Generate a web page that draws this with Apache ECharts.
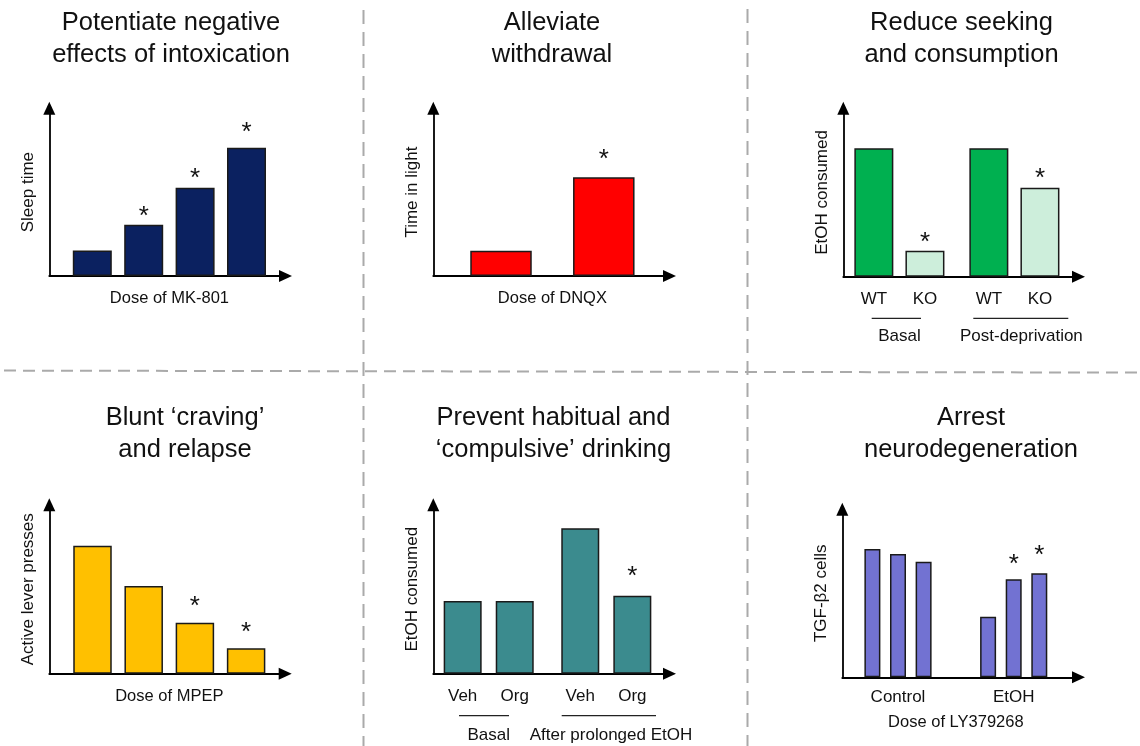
<!DOCTYPE html>
<html><head><meta charset="utf-8">
<script src="https://cdn.jsdelivr.net/npm/echarts@6/dist/echarts.min.js"></script>
<style>html,body{margin:0;padding:0;background:#fff}#c{width:1140px;height:746px}</style>
</head><body><div id="c"></div>
<script>
// ================= DATA =================
const panelTitles = [
  'Potentiate negative\neffects of intoxication',
  'Alleviate\nwithdrawal',
  'Reduce seeking\nand consumption',
  'Blunt \u2018craving\u2019\nand relapse',
  'Prevent habitual and\n\u2018compulsive\u2019 drinking',
  'Arrest\nneurodegeneration'
];
// Panel 1 – MK-801
const mk801Doses = ['0', '1', '2', '3'];
const sleepTime = [14.7, 29.4, 50.7, 73.6];
const sleepTimeSig = [false, true, true, true];
// Panel 2 – DNQX
const dnqxDoses = ['0', '1'];
const timeInLight = [14.5, 56.6];
const timeInLightSig = [false, true];
// Panel 3 – seeking / consumption
const seekingConditions = ['Basal', 'Post-deprivation'];
const etohWT = [73.4, 73.4];
const etohKO = [14.9, 50.9];
const etohWTSig = [false, false];
const etohKOSig = [true, true];
// Panel 4 – MPEP
const mpepDoses = ['0', '1', '2', '3'];
const leverPresses = [73.0, 50.0, 29.1, 14.5];
const leverPressesSig = [false, false, true, true];
// Panel 5 – habitual drinking
const drinkingConditions = ['Basal', 'After prolonged EtOH'];
const drinkVeh = [41.4, 82.9];
const drinkOrg = [41.4, 44.5];
const drinkVehSig = [false, false];
const drinkOrgSig = [false, true];
// Panel 6 – neurodegeneration
const tgfGroups = ['Control', 'EtOH'];
const tgfDose0 = [73.5, 34.7];
const tgfDose1 = [70.6, 56.1];
const tgfDose2 = [66.2, 59.6];
const tgfSig0 = [false, false];
const tgfSig1 = [false, true];
const tgfSig2 = [false, true];

// ================= STYLE / LAYOUT =================
const FONT = "'Liberation Sans', Arial, Helvetica, sans-serif";
const INK = '#111111';
const EDGE = '#1a1a1a';
const STAR_SIZE = 26;
const STAR_K = 19; // asterisk glyph centre above label anchor

const panels = [
  { title: panelTitles[0], tx: 171, ty: 6.9, yName: 'Sleep time', xName: 'Dose of MK-801',
    cats: mk801Doses, showCats: false,
    frame: { axisX: 49.3, tipY: 101.7, baseY: 276, tipX: 292 },
    band: { c0: 92.3, bw: 51.4 }, barW: 39, barGap: '0%',
    series: [{ name: 'MK-801', values: sleepTime, sig: sleepTimeSig, color: '#0b2160', starGap: [0, 13.7, 14.4, 21] }] },
  { title: panelTitles[1], tx: 552, ty: 6.9, yName: 'Time in light', xName: 'Dose of DNQX',
    cats: dnqxDoses, showCats: false,
    frame: { axisX: 433.3, tipY: 101.7, baseY: 276, tipX: 676 },
    band: { c0: 501, bw: 102.8 }, barW: 61.5, barGap: '0%',
    series: [{ name: 'DNQX', values: timeInLight, sig: timeInLightSig, color: '#ff0000', starGap: [0, 24] }] },
  { title: panelTitles[2], tx: 961.5, ty: 6.9, yName: 'EtOH consumed', xName: '',
    cats: seekingConditions, showCats: true, catMargin: 51.5, catShift: [0, 14], subLabelDist: 13.8,
    frame: { axisX: 843.3, tipY: 101.7, baseY: 276.7, tipX: 1085 },
    band: { c0: 899.4, bw: 115 }, barW: 39, barGap: '31%',
    underlines: [[871.7, 921, 318.3], [973.3, 1068.3, 318.3]],
    series: [
      { name: 'WT', values: etohWT, sig: etohWTSig, color: '#00b050', starGap: [0, 0], sub: true },
      { name: 'KO', values: etohKO, sig: etohKOSig, color: '#cdeedb', starGap: [14, 14.4], sub: true }] },
  { title: panelTitles[3], tx: 185, ty: 401.9, yName: 'Active lever presses', xName: 'Dose of MPEP',
    cats: mpepDoses, showCats: false,
    frame: { axisX: 49.3, tipY: 498.3, baseY: 673.7, tipX: 291.7 },
    band: { c0: 92.5, bw: 51.2 }, barW: 38.5, barGap: '0%',
    series: [{ name: 'MPEP', values: leverPresses, sig: leverPressesSig, color: '#ffc000', starGap: [0, 0, 22, 21.6] }] },
  { title: panelTitles[4], tx: 553.5, ty: 401.9, yName: 'EtOH consumed', xName: '',
    cats: drinkingConditions, showCats: true, catMargin: 52.8, catShift: [0, 9.4], subLabelDist: 14.5,
    frame: { axisX: 433.3, tipY: 498.3, baseY: 673.7, tipX: 676 },
    band: { c0: 488.7, bw: 117.6 }, barW: 38, barGap: '37%',
    underlines: [[459, 509, 715.7], [561.7, 656, 715.7]],
    series: [
      { name: 'Veh', values: drinkVeh, sig: drinkVehSig, color: '#3b8b8e', starGap: [0, 0], sub: true },
      { name: 'Org', values: drinkOrg, sig: drinkOrgSig, color: '#3b8b8e', starGap: [0, 25], sub: true }] },
  { title: panelTitles[5], tx: 971, ty: 401.9, yName: 'TGF-\u03b22 cells', xName: 'Dose of LY379268',
    cats: tgfGroups, showCats: true, catMargin: 11.5, xNameGap: 36.5,
    frame: { axisX: 842.3, tipY: 502.7, baseY: 677.3, tipX: 1085 },
    band: { c0: 898, bw: 115.7 }, barW: 16, barGap: '60%',
    series: [
      { name: 'Dose 0', values: tgfDose0, sig: tgfSig0, color: '#7272d2', starGap: [0, 0] },
      { name: 'Dose 1', values: tgfDose1, sig: tgfSig1, color: '#7272d2', starGap: [0, 21] },
      { name: 'Dose 2', values: tgfDose2, sig: tgfSig2, color: '#7272d2', starGap: [0, 23.3] }] }
];

// ================= BUILD OPTION =================
const option = {
  animation: false, backgroundColor: '#ffffff',
  title: [], grid: [], xAxis: [], yAxis: [], series: [], graphic: []
};
const txt = (size) => ({ fontFamily: FONT, fontSize: size, color: INK, fontWeight: 'normal' });
const ARROW_LEN = 13;

panels.forEach((p) => {
  option.title.push({
    text: p.title, left: p.tx, top: p.ty, textAlign: 'center', textVerticalAlign: 'top', padding: 0,
    textStyle: Object.assign(txt(25.5), { lineHeight: 32 })
  });
  const F = p.frame;
  const h = ARROW_LEN / 2;
  // frame grid (axes with arrows)
  const fg = option.grid.length;
  option.grid.push({ left: F.axisX, top: F.tipY + h, width: F.tipX - h - F.axisX, height: F.baseY - F.tipY - h, outerBoundsMode: 'none', containLabel: false });
  const axisLine = { show: true, onZero: false, symbol: ['none', 'triangle'], symbolSize: [12, ARROW_LEN], lineStyle: { color: '#000', width: 1.8 } };
  option.xAxis.push({ gridIndex: fg, type: 'value', min: 0, max: 1, axisLine, axisTick: { show: false }, axisLabel: { show: false }, splitLine: { show: false } });
  option.yAxis.push({ gridIndex: fg, type: 'value', min: 0, max: 1, axisLine, axisTick: { show: false }, axisLabel: { show: false }, splitLine: { show: false },
    name: p.yName, nameLocation: 'middle', nameGap: 12.5, nameRotate: 90, nameTextStyle: txt(17) });
  // bars grid
  const bg = option.grid.length;
  const n = p.cats.length;
  option.grid.push({ left: p.band.c0 - p.band.bw / 2, top: F.tipY, width: n * p.band.bw, height: F.baseY - F.tipY, outerBoundsMode: 'none', containLabel: false });
  const xi = option.xAxis.length;
  option.xAxis.push({ gridIndex: bg, type: 'category',
    data: p.cats.map((c, i) => (p.catShift && p.catShift[i]) ? { value: c, textStyle: { padding: [0, 0, 0, p.catShift[i]] } } : c),
    axisLine: { show: false }, axisTick: { show: false }, splitLine: { show: false },
    axisLabel: Object.assign({ show: p.showCats, margin: p.catMargin || 8, interval: 0 }, txt(17)),
    name: p.xName, nameLocation: 'middle', nameGap: p.xNameGap || 14, nameTextStyle: txt(16.5) });
  const yi = option.yAxis.length;
  option.yAxis.push({ gridIndex: bg, type: 'value', min: 0, max: 100, show: false });
  p.series.forEach((s) => {
    const ser = {
      type: 'bar', name: s.name, xAxisIndex: xi, yAxisIndex: yi, barWidth: p.barW, barGap: p.barGap,
      silent: true,
      itemStyle: { color: s.color, borderColor: EDGE, borderWidth: 1.5 },
      label: { show: false, position: 'top', distance: 0, formatter: '*', fontFamily: FONT, fontSize: STAR_SIZE, color: INK },
      data: s.values.map((v, i) => ({ value: v, label: { show: s.sig[i], offset: [0, STAR_K - s.starGap[i]] } }))
    };
    if (s.sub) {
      ser.markPoint = {
        symbol: 'circle', symbolSize: 0, silent: true,
        label: Object.assign({ show: true, position: 'bottom', distance: p.subLabelDist, formatter: s.name }, txt(17)),
        data: p.cats.map((c) => ({ coord: [c, 0] }))
      };
    }
    option.series.push(ser);
  });
  (p.underlines || []).forEach((u) => {
    option.graphic.push({ type: 'line', silent: true, shape: { x1: u[0], y1: u[2], x2: u[1], y2: u[2] }, style: { stroke: '#222', lineWidth: 1.3 } });
  });
});

// dashed panel dividers
const divider = { stroke: '#aaaaaa', lineWidth: 2 };
option.graphic.push({ type: 'line', silent: true, z: -1, shape: { x1: 363.5, y1: 10, x2: 363.5, y2: 746 }, style: Object.assign({ lineDash: [14, 8] }, divider) });
option.graphic.push({ type: 'line', silent: true, z: -1, shape: { x1: 747.5, y1: 9, x2: 747.5, y2: 746 }, style: Object.assign({ lineDash: [14, 8] }, divider) });
option.graphic.push({ type: 'line', silent: true, z: -1, shape: { x1: 4, y1: 370.6, x2: 1140, y2: 372.6 }, style: Object.assign({ lineDash: [12, 7] }, divider) });

const chart = echarts.init(document.getElementById('c'), null, { renderer: 'canvas' });
chart.setOption(option);
</script>
</body></html>
